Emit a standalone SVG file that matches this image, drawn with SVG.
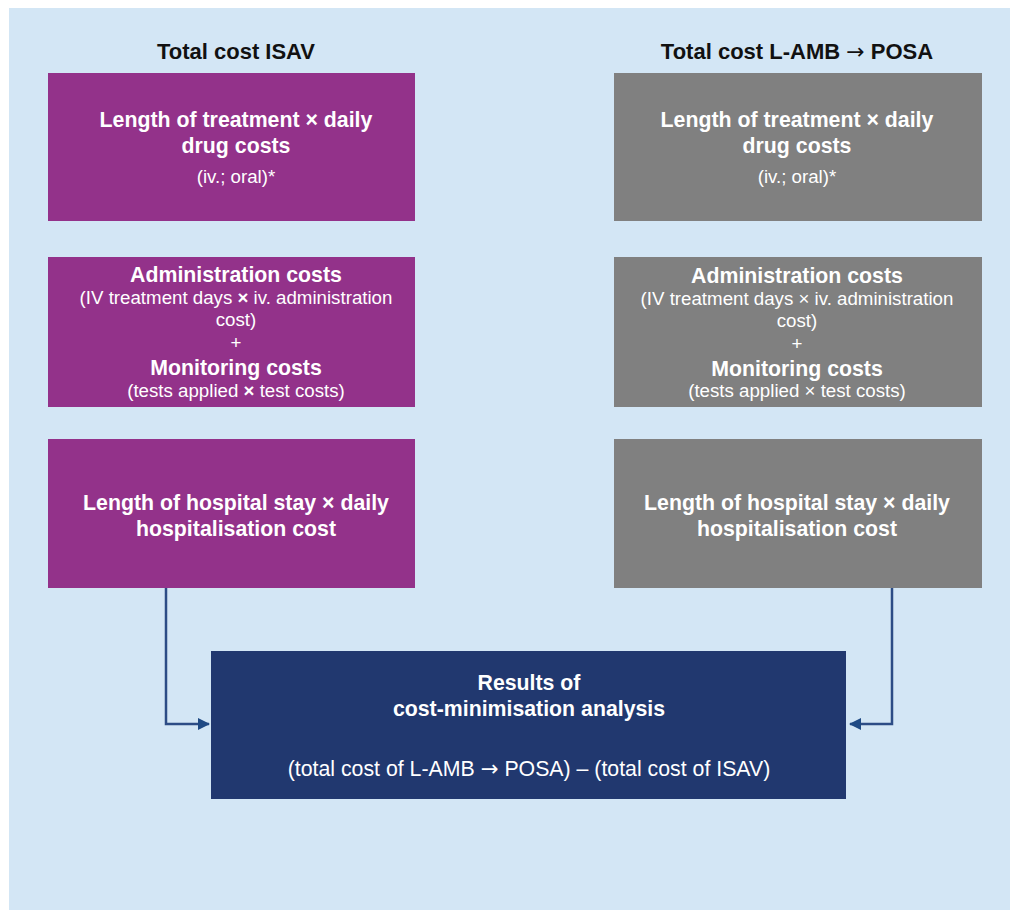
<svg xmlns="http://www.w3.org/2000/svg" width="1010" height="910" viewBox="0 0 1010 910">
<defs>
<style>
text{font-family:"Liberation Sans",Arial,sans-serif;fill:#fff;text-anchor:middle}
.hd{font-size:22px;font-weight:bold;fill:#111}
.b{font-size:21.3px;font-weight:bold}
.r{font-size:18.7px}
.bx{font-weight:bold}
.ar{font-family:"DejaVu Sans",sans-serif;font-weight:normal}
.p{fill:#93328a}
.g{fill:#808080}
.n{fill:#21386f}
.conn{fill:none;stroke:#2c4c85;stroke-width:2.5}
</style>
<marker id="ah" viewBox="0 0 12 12" refX="11" refY="6" markerWidth="12" markerHeight="12" markerUnits="userSpaceOnUse" orient="auto">
<path d="M0,0 L12,6 L0,12 z" fill="#1f4a84"/>
</marker>
</defs>
<rect x="9" y="8" width="1001" height="902" fill="#d3e6f5"/>
<text class="hd" x="236" y="59">Total cost ISAV</text>
<text class="hd" x="797" y="59">Total cost L-AMB <tspan class="ar">→</tspan> POSA</text>
<g id="isav-drug">
<rect class="p" x="48" y="73" width="367" height="148"/>
<text class="b" x="236" y="127">Length of treatment × daily</text>
<text class="b" x="236" y="153">drug costs</text>
<text class="r" x="236" y="183">(iv.; oral)*</text>
</g>
<g id="isav-admin">
<rect class="p" x="48" y="257" width="367" height="150"/>
<text class="b" x="236" y="282">Administration costs</text>
<text class="r" x="236" y="304">(IV treatment days <tspan class="bx">×</tspan> iv. administration</text>
<text class="r" x="236" y="326">cost)</text>
<text class="r" x="236" y="349">+</text>
<text class="b" x="236" y="375">Monitoring costs</text>
<text class="r" x="236" y="397">(tests applied <tspan class="bx">×</tspan> test costs)</text>
</g>
<g id="isav-hosp">
<rect class="p" x="48" y="439" width="367" height="149"/>
<text class="b" x="236" y="510">Length of hospital stay × daily</text>
<text class="b" x="236" y="536">hospitalisation cost</text>
</g>
<g id="posa-drug">
<rect class="g" x="614" y="73" width="368" height="148"/>
<text class="b" x="797" y="127">Length of treatment × daily</text>
<text class="b" x="797" y="153">drug costs</text>
<text class="r" x="797" y="183">(iv.; oral)*</text>
</g>
<g id="posa-admin">
<rect class="g" x="614" y="257" width="368" height="150"/>
<text class="b" x="797" y="283">Administration costs</text>
<text class="r" x="797" y="305">(IV treatment days × iv. administration</text>
<text class="r" x="797" y="327">cost)</text>
<text class="r" x="797" y="350">+</text>
<text class="b" x="797" y="376">Monitoring costs</text>
<text class="r" x="797" y="397">(tests applied × test costs)</text>
</g>
<g id="posa-hosp">
<rect class="g" x="614" y="439" width="368" height="149"/>
<text class="b" x="797" y="510">Length of hospital stay × daily</text>
<text class="b" x="797" y="536">hospitalisation cost</text>
</g>
<g id="results">
<rect class="n" x="211" y="651" width="635" height="148"/>
<text class="b" x="529" y="690">Results of</text>
<text class="b" x="529" y="716">cost-minimisation analysis</text>
<text x="529" y="776" style="font-size:21.3px">(total cost of L-AMB <tspan class="ar">→</tspan> POSA) – (total cost of ISAV)</text>
</g>
<g id="connectors">
<path class="conn" d="M166,588 V724 H209" marker-end="url(#ah)"/>
<path class="conn" d="M892,588 V724 H850" marker-end="url(#ah)"/>
</g>
</svg>
